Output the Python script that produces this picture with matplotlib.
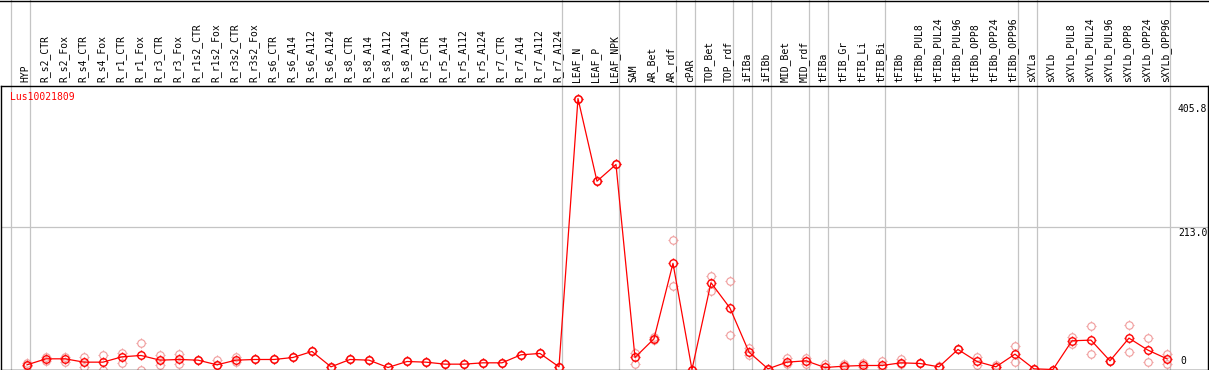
import matplotlib
matplotlib.use('Agg')
import matplotlib.pyplot as plt
from matplotlib.lines import Line2D
from matplotlib.path import Path


gene = 'Lus10021809'

groups = [
    ['HYP'],
    ['R_s2_CTR', 'R_s2_Fox', 'R_s4_CTR', 'R_s4_Fox', 'R_r1_CTR', 'R_r1_Fox',
     'R_r3_CTR', 'R_r3_Fox', 'R_r1s2_CTR', 'R_r1s2_Fox', 'R_r3s2_CTR', 'R_r3s2_Fox',
     'R_s6_CTR', 'R_s6_A14', 'R_s6_A112', 'R_s6_A124', 'R_s8_CTR', 'R_s8_A14',
     'R_s8_A112', 'R_s8_A124', 'R_r5_CTR', 'R_r5_A14', 'R_r5_A112', 'R_r5_A124',
     'R_r7_CTR', 'R_r7_A14', 'R_r7_A112', 'R_r7_A124'],
    ['LEAF_N', 'LEAF_P', 'LEAF_NPK'],
    ['SAM', 'AR_Bet', 'AR_rdf'],
    ['cPAR'],
    ['TOP_Bet', 'TOP_rdf'],
    ['iFIBa'],
    ['iFIBb'],
    ['MID_Bet', 'MID_rdf'],
    ['tFIBa'],
    ['tFIB_Gr', 'tFIB_Li', 'tFIB_Bi'],
    ['tFIBb', 'tFIBb_PUL8', 'tFIBb_PUL24', 'tFIBb_PUL96', 'tFIBb_OPP8', 'tFIBb_OPP24', 'tFIBb_OPP96'],
    ['sXYLa'],
    ['sXYLb', 'sXYLb_PUL8', 'sXYLb_PUL24', 'sXYLb_PUL96', 'sXYLb_OPP8', 'sXYLb_OPP24', 'sXYLb_OPP96'],
]
categories = [name for group in groups for name in group]

# mean expression (red line)
mean_values = [
    7,
    16, 16, 11, 11, 19, 21, 14, 15, 14, 7, 14, 15,
    15, 18, 27, 4, 15, 14, 3, 12, 11, 8, 8, 10, 10, 22, 24, 4,
    405.8, 282, 307,
    18, 46, 159,
    0,
    130, 92,
    26,
    1,
    11, 13,
    3,
    5, 6, 6,
    10, 9, 4, 30, 12, 4, 23,
    1,
    0, 43, 44, 13, 47, 29, 16,
]

# replicates (pale circles)
rep_a = [
    9,
    18, 19, 18, 22, 25, 40, 22, 23, 14, 14, 19, 15,
    15, 18, 27, 4, 15, 14, 3, 12, 11, 8, 8, 10, 10, 22, 24, 4,
    405.8, 282, 307,
    24, 44, 194,
    0,
    140, 133,
    32,
    1,
    17, 17,
    8,
    8, 10, 13,
    15, 9, 5, 30, 19, 7, 35,
    1,
    0, 48, 65, 13, 67, 47, 23,
]
rep_b = [
    5,
    12, 11, 4, 0, 10, 0, 6, 8, 14, 7, 11, 15,
    15, 18, 27, 4, 15, 14, 3, 12, 11, 8, 8, 10, 10, 22, 24, 4,
    405.8, 282, 307,
    8, 48, 125,
    0,
    117, 51,
    22,
    1,
    8, 8,
    0,
    4, 4, 3,
    8, 9, 3, 30, 7, 3, 11,
    1,
    0, 38, 23, 13, 26, 11, 8,
]

y_ticks = [0, 213.0, 405.8]

RED = '#ff0000'
PINK = '#f09a9a'
GRID = '#c4c4c4'
FONT = 'DejaVu Sans Mono'

# four short ticks sitting just outside the circle
r_in = 1 / 1.4
tick_marker = Path(
    [(0, r_in), (0, 1), (0, -r_in), (0, -1), (r_in, 0), (1, 0), (-r_in, 0), (-1, 0)],
    [Path.MOVETO, Path.LINETO] * 4,
)
CIRCLE_MS = 5.4
TICK_MS = CIRCLE_MS * 1.4


def draw_points(values, color, lw, ew, z):
    ax.plot(x, values, color=color, lw=lw, marker='o', markersize=CIRCLE_MS,
            markerfacecolor='none', markeredgecolor=color, markeredgewidth=ew,
            linestyle='-' if lw else 'none', clip_on=False, zorder=z)
    ax.plot(x, values, linestyle='none', marker=tick_marker, markersize=TICK_MS,
            markeredgecolor=color, markeredgewidth=ew, clip_on=False, zorder=z)


W, H = 1209, 370
fig = plt.figure(figsize=(W / 100, H / 100), dpi=100)
ax = fig.add_axes([0.5 / W, 0.5 / H, 1207.5 / W, 284 / H])

x = list(range(len(categories)))
ax.set_xlim(-1.395, 62.16)
ax.set_ylim(0, max(mean_values) * 1.048)

for s in ax.spines.values():
    s.set_color('black')
    s.set_linewidth(1.0)
ax.set_xticks([])
ax.set_yticks([])

# group separators
ext = (H - 0.5) / 284
end = -1
ax.axvline(end + 0.16, ymin=0, ymax=ext, color=GRID, lw=0.9, clip_on=False, zorder=0)
for group in groups:
    end += len(group)
    ax.axvline(end + 0.16, ymin=0, ymax=ext, color=GRID, lw=0.9, clip_on=False, zorder=0)

ax.axhline(y_ticks[1], color=GRID, lw=0.9, zorder=0)

# replicates, then mean line on top
for rep in (rep_a, rep_b):
    draw_points(rep, PINK, 0, 0.8, 2)
draw_points(mean_values, RED, 0.9, 1.0, 3)

# category labels above the plot
for i, name in enumerate(categories):
    ax.annotate(name, xy=(i, 1), xycoords=('data', 'axes fraction'),
                xytext=(-1.5, 3), textcoords='offset pixels',
                rotation=90, ha='center', va='bottom',
                fontsize=7, family=FONT, color='black')

# value labels on the right
ax.annotate(f'{y_ticks[2]:.1f}', xy=(1, y_ticks[2]), xycoords=('axes fraction', 'data'),
            xytext=(-30, -5), textcoords='offset pixels', ha='left', va='top',
            fontsize=7, family=FONT)
ax.annotate(f'{y_ticks[1]:.1f}', xy=(1, y_ticks[1]), xycoords=('axes fraction', 'data'),
            xytext=(-30, -1), textcoords='offset pixels', ha='left', va='top',
            fontsize=7, family=FONT)
ax.annotate(f'{y_ticks[0]:g}', xy=(1, y_ticks[0]), xycoords=('axes fraction', 'data'),
            xytext=(-28, 4), textcoords='offset pixels', ha='left', va='bottom',
            fontsize=7, family=FONT)

fig.text(10 / W, 1 - 97 / H, gene, color=RED, ha='left', va='center',
         fontsize=7, family=FONT)

fig.add_artist(Line2D([0, 1], [1 - 0.5 / H, 1 - 0.5 / H], color='black', lw=1.0))

fig.savefig('out.png', dpi=100)
plt.close(fig)
